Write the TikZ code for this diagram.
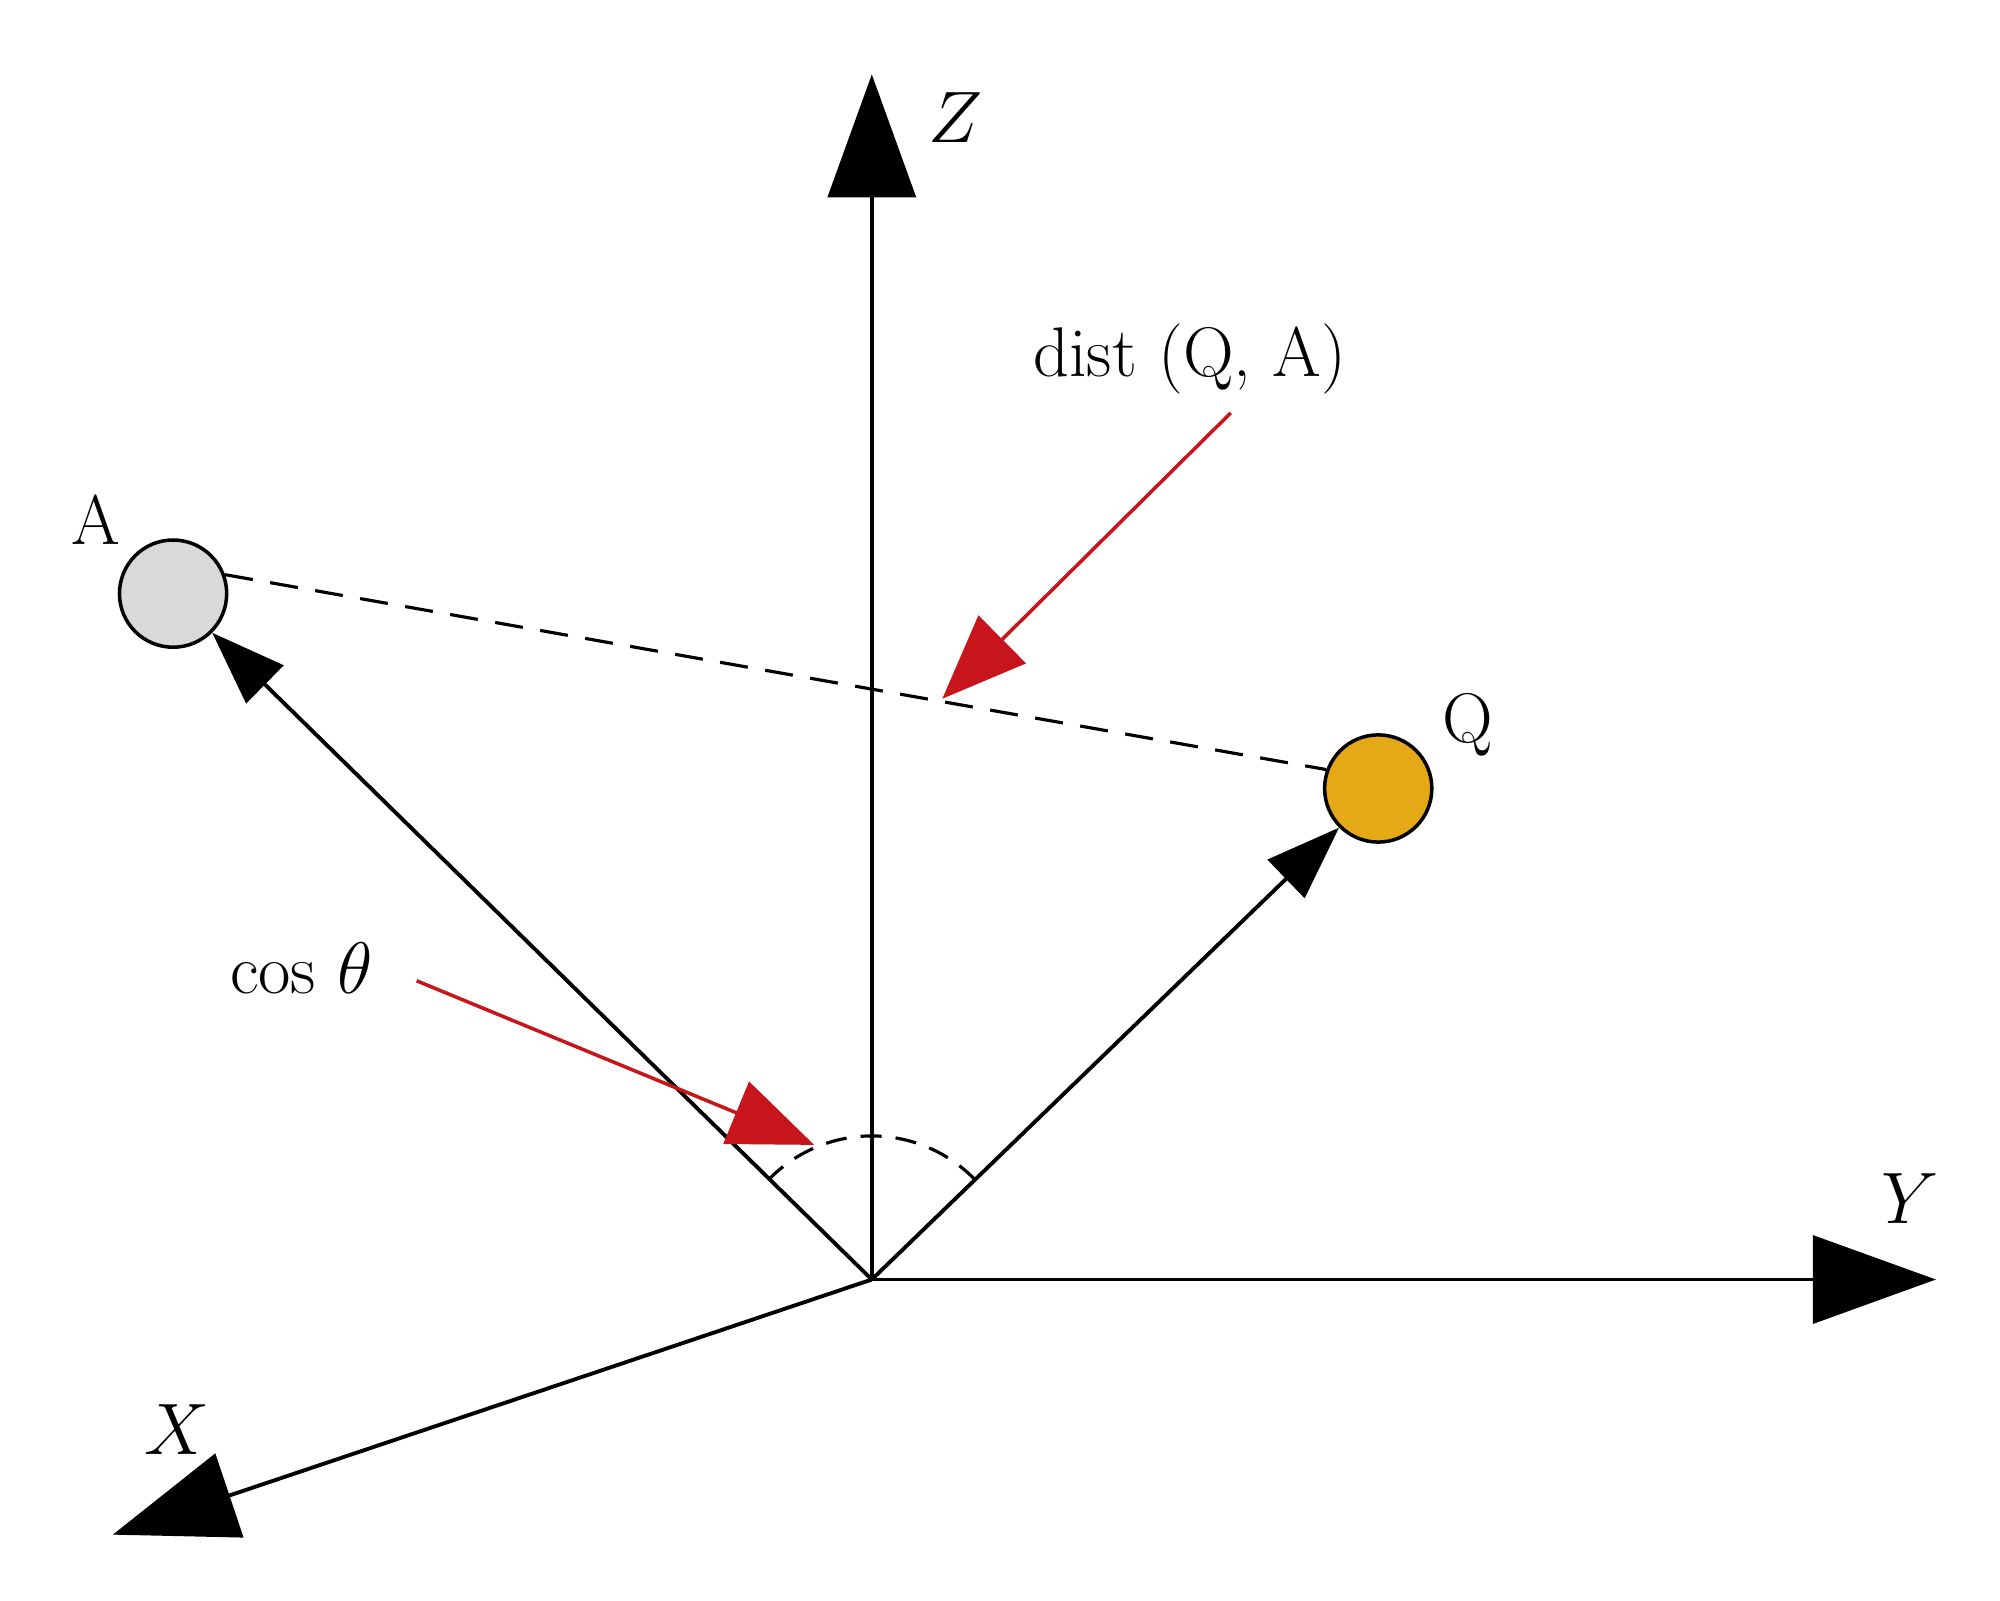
\documentclass[tikz,border=0pt]{standalone}
\usepackage{tikz}
\usetikzlibrary{arrows.meta}
\usetikzlibrary{positioning}
\definecolor{qorange}{HTML}{E5A817}
\definecolor{agray}{HTML}{D9D9D9}
\definecolor{pointred}{HTML}{C8141B}
\tikzset{
    axis/.style={line width=1.1pt,-{Triangle[length=35pt,width=25pt]}},
    vect/.style={line width=1.1pt,-{Triangle[length=21pt,width=15pt]}},
    pointer/.style={pointred,line width=1pt,-{Triangle[length=24pt,width=19pt]}},
    ball/.style={circle,draw,line width=1pt,minimum size=30.5pt,inner sep=0},
    lbl/.style={font=\fontsize{20}{23}\selectfont}
}
\begin{document}
\begin{tikzpicture}[x=0.01282cm,y=-0.01282cm]
    \useasboundingbox (0,0) rectangle (1560,1248);
    \coordinate(o) at (680,998);
    \coordinate(zt) at (680,58);
    \coordinate(yt) at (1510,998);
    \coordinate(xt) at (88,1197);
    \node(a)[ball,fill=agray] at (135,463) {};
    \node(q)[ball,fill=qorange] at (1075,615) {};
    \node(al)[lbl] at (75,405) {A};
    \node(ql)[lbl] at (1145,565) {Q};
    \node(zl)[lbl] at (745,92) {$Z$};
    \node(yl)[lbl] at (1490,935) {$Y$};
    \node(xl)[lbl] at (138,1115) {$X$};
    \node(dl)[lbl] at (928,280) {dist (Q, A)};
    \node(cl)[lbl] at (235,755) {cos $\theta$};

    \draw[axis] (o)--(zt);
    \draw[axis] (o)--(yt);
    \draw[axis] (o)--(xt);
    \draw[vect] (o)--(a.-45);
    \draw[vect] (o)--(q.-135);
    \draw[dashed,line width=0.9pt,dash pattern=on 8pt off 5pt] (a.20)--(q.160);
    \draw[dashed,line width=0.9pt,dash pattern=on 6pt off 4pt] ([shift={(-44:112)}]o) arc[start angle=-44,end angle=-136,radius=112];
    \coordinate(dm) at (735,545);
    \coordinate(cm) at (635,893);
    \draw[pointer] (960,322)--(dm);
    \draw[pointer] (325,765)--(cm);
\end{tikzpicture}
\end{document}
